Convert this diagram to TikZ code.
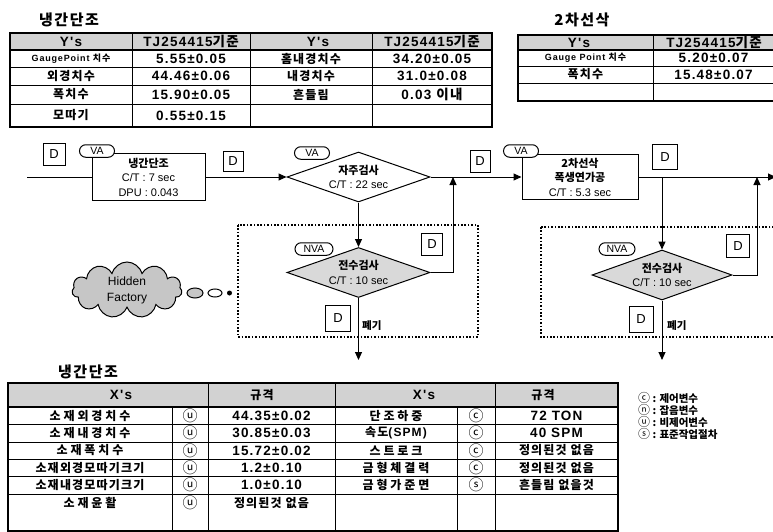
\documentclass[tikz,border=0pt]{standalone}
\usepackage{fontspec}
\newfontfamily\lat{Liberation Sans}
\newfontfamily\lats{Liberation Sans}[LetterSpace=9]
\newfontfamily\kr{Noto Sans CJK KR}
\newfontfamily\krs{Noto Sans CJK KR}[LetterSpace=10]
\newfontfamily\krw{Noto Sans CJK KR}[LetterSpace=24]
\usetikzlibrary{arrows.meta,shapes.geometric,shapes.symbols,shapes.misc}
\tikzset{
  tbl/.style={line width=0.9pt},
  tblo/.style={line width=1.6pt},
  hdr/.style={fill=gray!35},
  ct/.style={font=\lats\bfseries\fontsize{13.5}{15}\selectfont, inner sep=0pt},
  ck/.style={font=\krs\bfseries\fontsize{12}{15}\selectfont, inner sep=0pt},
  cw/.style={font=\krw\bfseries\fontsize{12}{15}\selectfont, inner sep=0pt},
  cy/.style={font=\kr\fontsize{15}{15}\selectfont, inner sep=0pt},
  cs/.style={font=\lats\bfseries\fontsize{9}{11}\selectfont, inner sep=0pt},
  ttl/.style={font=\krs\bfseries\fontsize{15}{17}\selectfont, inner sep=0pt},
  leg/.style={font=\kr\bfseries\fontsize{10.5}{11}\selectfont, inner sep=0pt, anchor=west},
  proc/.style={draw, line width=1pt, rectangle, inner sep=0pt, align=center, fill=white,
    font=\lat\fontsize{11}{14.5}\selectfont},
  dbox/.style={draw, line width=1pt, inner sep=0pt, fill=white, font=\lat\fontsize{13}{14}\selectfont},
  tag/.style={draw, rounded rectangle, line width=1pt, fill=white, inner sep=0pt,
    minimum height=12.5pt, font=\lat\fontsize{10.5}{11}\selectfont},
  dec/.style={draw, diamond, aspect=2.86, line width=1pt, inner sep=0pt, align=center,
    font=\lat\fontsize{11}{14.5}\selectfont},
  flow/.style={line width=1pt},
  arr/.style={flow, -{Triangle[length=8pt,width=7pt]}},
  dotbox/.style={line width=1.6pt, dash pattern=on 1.6pt off 1.8pt},
}
\newcommand{\K}[1]{{\kr\bfseries #1}}
\newcommand{\Kt}[1]{{\krs #1}}
\newcommand{\Cl}[1]{{\mdseries\fontsize{12}{11}\selectfont #1}}
\begin{document}
\begin{tikzpicture}[x=1pt,y=-1pt]
\useasboundingbox (0,0) rectangle (773,532);

% ---------------- Table 1 ----------------
\node[ttl] (t1title) at (69,20) {냉간단조};
\fill[hdr] (10,33) rectangle (492,50);
\foreach \yy in {50,67,85,104} \draw[tbl] (10,\yy) -- (492,\yy);
\foreach \xx in {132,250,372} \draw[tbl] (\xx,33) -- (\xx,127);
\draw[tblo] (10,33) rectangle (492,127);
\draw[tblo] (10,50) -- (492,50);
\node[ct] (a11) at (71,41.5) {Y's};
\node[ct] (a12) at (191,41.5) {TJ254415\Kt{기준}};
\node[ct] (a13) at (318,41.5) {Y's};
\node[ct] (a14) at (432,41.5) {TJ254415\Kt{기준}};
\node[cs] (a21) at (71,58.5) {GaugePoint \Kt{치수}};
\node[ct] (a22) at (191,58.5) {5.55±0.05};
\node[ck] (a23) at (311,58.5) {홈내경치수};
\node[ct] (a24) at (432,58.5) {34.20±0.05};
\node[ck] (a31) at (71,76) {외경치수};
\node[ct] (a32) at (191,76) {44.46±0.06};
\node[ck] (a33) at (311,76) {내경치수};
\node[ct] (a34) at (432,76) {31.0±0.08};
\node[ck] (a41) at (71,94.5) {폭치수};
\node[ct] (a42) at (191,94.5) {15.90±0.05};
\node[ck] (a43) at (311,94.5) {흔들림};
\node[ct] (a44) at (432,94.5) {0.03 \Kt{이내}};
\node[ck] (a51) at (71,115.5) {모따기};
\node[ct] (a52) at (191,115.5) {0.55±0.15};

% ---------------- Table 2 ----------------
\node[ttl] (t2title) at (582,20) {2차선삭};
\fill[hdr] (518,35) rectangle (775,50);
\foreach \yy in {50,66,83} \draw[tbl] (518,\yy) -- (775,\yy);
\draw[tbl] (653,35) -- (653,101);
\draw[tblo] (518,35) rectangle (775,101);
\draw[tblo] (518,50) -- (775,50);
\node[ct] (b11) at (579,42.5) {Y's};
\node[ct] (b12) at (714,42.5) {TJ254415\Kt{기준}};
\node[cs] (b21) at (585.5,58) {Gauge Point \Kt{치수}};
\node[ct] (b22) at (713.5,58) {5.20±0.07};
\node[ck] (b31) at (585.5,74.5) {폭치수};
\node[ct] (b32) at (713.5,74.5) {15.48±0.07};

% ---------------- Flow ----------------
\draw[dotbox] (238,225) rectangle (478,337);
\draw[dotbox] (541,227) rectangle (782,337);

\coordinate (start) at (27,177);
\node[proc, minimum width=113pt, minimum height=47pt] (p1) at (148.5,177)
  {\K{냉간단조}\\C/T : 7 sec\\DPU : 0.043};
\node[dec, minimum width=143pt, minimum height=50pt] (d1) at (358.5,177)
  {\K{자주검사}\\C/T : 22 sec};
\node[proc, minimum width=116pt, minimum height=45pt] (p2) at (580,177)
  {\K{2차선삭}\\\K{폭생연가공}\\C/T : 5.3 sec};
\coordinate (fin) at (776,177);
\coordinate (br) at (662,177);
\coordinate (j1) at (453,177);
\coordinate (j2) at (757,177);
\node[dec, fill=gray!30, minimum width=143pt, minimum height=50pt] (d3) at (358.5,272.5)
  {\K{전수검사}\\C/T : 10 sec};
\node[dec, fill=gray!30, minimum width=140pt, minimum height=50pt] (d4) at (662,275)
  {\K{전수검사}\\C/T : 10 sec};
\coordinate (o1) at (358.5,360);
\coordinate (o2) at (662,360);

\draw[flow] (start) -- (p1.west);
\draw[arr] (p1.east) -- (d1.west);
\draw[arr] (d1.east) -- (p2.west);
\draw[arr] (p2.east) -- (fin);
\draw[arr] (d1.south) -- (d3.north);
\draw[arr] (br) -- (d4.north);
\draw[arr] (d3.east) -| (j1);
\draw[arr] (d4.east) -| (j2);
\draw[arr] (d3.south) -- (o1);
\draw[arr] (d4.south) -- (o2);

\node[tag, minimum width=35pt] (va1) at (97,151) {VA};
\node[tag, minimum width=35pt] (va2) at (312,153) {VA};
\node[tag, minimum width=35pt] (va3) at (521,151) {VA};
\node[tag, minimum width=38pt] (nva1) at (314,249) {NVA};
\node[tag, minimum width=36pt] (nva2) at (617,249) {NVA};

\node[dbox, minimum width=22pt, minimum height=22pt] (dd1) at (54,154) {D};
\node[dbox, minimum width=20pt, minimum height=20pt] (dd2) at (233,161) {D};
\node[dbox, minimum width=20pt, minimum height=22pt] (dd3) at (480,161) {D};
\node[dbox, minimum width=25pt, minimum height=25pt] (dd4) at (665,157) {D};
\node[dbox, minimum width=21pt, minimum height=22pt] (dd5) at (432,244) {D};
\node[dbox, minimum width=23pt, minimum height=23pt] (dd6) at (738,246) {D};
\node[dbox, minimum width=25pt, minimum height=26pt] (dd7) at (338,318) {D};
\node[dbox, minimum width=24pt, minimum height=26pt] (dd8) at (641,319) {D};
\node[leg] (w1) at (362,326) {폐기};
\node[leg] (w2) at (667,326) {폐기};

% cloud
\node[cloud, cloud puffs=11, aspect=2, draw, line width=1pt, fill=gray!45,
  minimum width=110pt, minimum height=56pt, align=center, inner sep=0pt,
  font=\lat\fontsize{12}{16}\selectfont] (hf) at (127,290) {Hidden\\Factory};
\node[ellipse, draw, line width=1pt, fill=gray!45, minimum width=16pt, minimum height=10pt, inner sep=0pt] (bb1) at (195,293) {};
\node[ellipse, draw, line width=1pt, fill=white, minimum width=14pt, minimum height=8pt, inner sep=0pt] (bb2) at (215,293) {};
\node[circle, fill=black, minimum size=5pt, inner sep=0pt] (bb3) at (229.5,293) {};

% ---------------- Bottom table ----------------
\node[ttl] (t3title) at (88,372) {냉간단조};
\fill[hdr] (8,383) rectangle (618,407);
\foreach \yy in {424.5,442,459,476.5,494} \draw[tbl] (8,\yy) -- (618,\yy);
\foreach \xx in {172,457} \draw[tbl] (\xx,407) -- (\xx,531);
\foreach \xx in {208,335,495} \draw[tbl] (\xx,383) -- (\xx,531);
\draw[tblo] (8,383) rectangle (618,531);
\draw[tblo] (8,407) -- (618,407);
\node[ct] (c01) at (121,395) {X's};
\node[ck] (c02) at (262,395) {규격};
\node[ct] (c03) at (424,395) {X's};
\node[ck] (c04) at (543,395) {규격};
\node[cw] (c11) at (90,415.75) {소재외경치수};
\node[cy] (c12) at (190,415.75) {ⓤ};
\node[ct] (c13) at (271.5,415.75) {44.35±0.02};
\node[cw] (c14) at (396,415.75) {단조하중};
\node[cy] (c15) at (476,415.75) {ⓒ};
\node[ct] (c16) at (556.5,415.75) {72 TON};
\node[cw] (c21) at (90,433.25) {소재내경치수};
\node[cy] (c22) at (190,433.25) {ⓤ};
\node[ct] (c23) at (271.5,433.25) {30.85±0.03};
\node[ck] (c24) at (396,433.25) {속도{\lats(SPM)}};
\node[cy] (c25) at (476,433.25) {ⓒ};
\node[ct] (c26) at (556.5,433.25) {40 SPM};
\node[cw] (c31) at (90,450.5) {소재폭치수};
\node[cy] (c32) at (190,450.5) {ⓤ};
\node[ct] (c33) at (271.5,450.5) {15.72±0.02};
\node[cw] (c34) at (396,450.5) {스트로크};
\node[cy] (c35) at (476,450.5) {ⓒ};
\node[ck] (c36) at (556.5,450.5) {정의된것 없음};
\node[ck] (c41) at (90,467.75) {소재외경모따기크기};
\node[cy] (c42) at (190,467.75) {ⓤ};
\node[ct] (c43) at (271.5,467.75) {1.2±0.10};
\node[cw] (c44) at (396,467.75) {금형체결력};
\node[cy] (c45) at (476,467.75) {ⓒ};
\node[ck] (c46) at (556.5,467.75) {정의된것 없음};
\node[ck] (c51) at (90,485.25) {소재내경모따기크기};
\node[cy] (c52) at (190,485.25) {ⓤ};
\node[ct] (c53) at (271.5,485.25) {1.0±0.10};
\node[cw] (c54) at (396,485.25) {금형가준면};
\node[cy] (c55) at (476,485.25) {ⓢ};
\node[ck] (c56) at (556.5,485.25) {흔들림 없을것};
\node[cw] (c61) at (90,503) {소재윤활};
\node[cy] (c62) at (190,503) {ⓤ};
\node[ck] (c63) at (271.5,503) {정의된것 없음};

% legend
\node[leg] (l1) at (638,398) {\Cl{ⓒ} : 제어변수};
\node[leg] (l2) at (638,410) {\Cl{ⓝ} : 잡음변수};
\node[leg] (l3) at (638,422) {\Cl{ⓤ} : 비제어변수};
\node[leg] (l4) at (638,434) {\Cl{ⓢ} : 표준작업절차};
\end{tikzpicture}
\end{document}
